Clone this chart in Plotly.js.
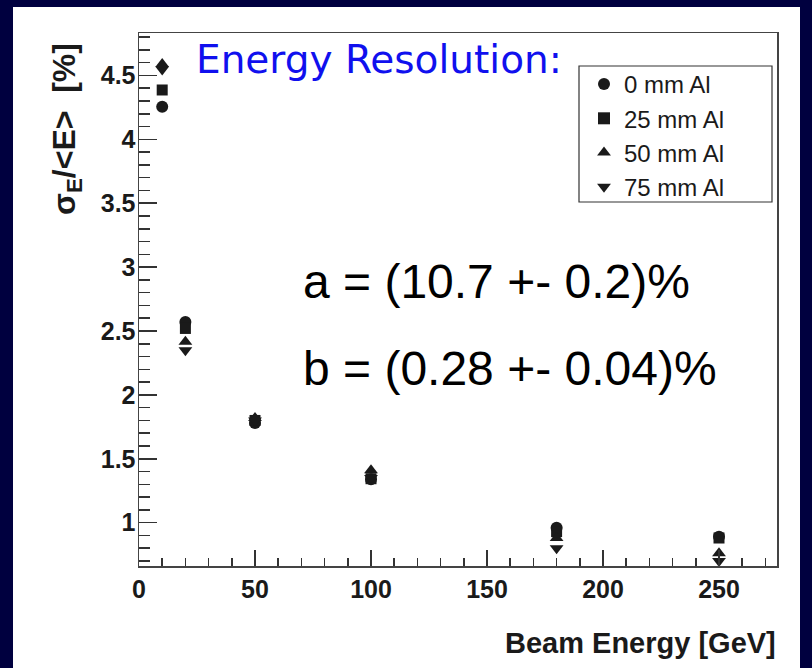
<!DOCTYPE html>
<html>
<head>
<meta charset="utf-8">
<script src="https://cdn.plot.ly/plotly-3.0.1.min.js"></script>
<style>
  html, body { margin: 0; padding: 0; background: #00003f; }
  #chart { width: 812px; height: 668px; }
</style>
</head>
<body>
<div id="chart"></div>
<script>
// ---- data ----
const beamEnergy = [10, 20, 50, 100, 180, 250];
const res0mm  = [4.255, 2.57, 1.78, 1.34, 0.96, 0.89];
const res25mm = [4.386, 2.52, 1.80, 1.344, 0.93, 0.88];
const res50mm = [4.59, 2.416, 1.82, 1.41, 0.88, 0.76];
const res75mm = [4.546, 2.35, 1.80, 1.35, 0.80, 0.70];
const seriesNames = ['0 mm Al', '25 mm Al', '50 mm Al', '75 mm Al'];
const xTickVals = [0, 50, 100, 150, 200, 250];
const yTickVals = [1, 1.5, 2, 2.5, 3, 3.5, 4, 4.5];
const yTickText = ['1', '1.5', '2', '2.5', '3', '3.5', '4', '4.5'];
const fitA = 'a = (10.7 +- 0.2)%';
const fitB = 'b = (0.28 +- 0.04)%';

// ---- layout geometry (pixels) ----
const W = 812, H = 668;
const L = 139, R = 777, T = 33, B = 566;
const px = x => (x - L) / (R - L);
const py = y => (B - y) / (B - T);

const sans = '"Liberation Sans", Arial, sans-serif';
const ink = '#1a1a1a';

const symbols = ['circle', 'square', 'triangle-up', 'triangle-down'];
const sizes = [12, 11, 12, 12];
const seriesVals = [res0mm, res25mm, res50mm, res75mm];

const traces = seriesVals.map((vals, i) => ({
  type: 'scatter',
  mode: 'markers',
  x: beamEnergy,
  y: vals,
  name: seriesNames[i],
  marker: { symbol: symbols[i], size: sizes[i], color: ink, line: { width: 0 } },
  cliponaxis: false
}));

const layout = {
  width: W, height: H,
  paper_bgcolor: '#00003f',
  plot_bgcolor: '#ffffff',
  margin: { l: L, r: W - R, t: T, b: H - B, pad: 0 },
  showlegend: true,
  legend: {
    x: px(584), xanchor: 'left',
    y: py(62), yanchor: 'top',
    bgcolor: 'rgba(0,0,0,0)',
    borderwidth: 0,
    font: { family: sans, size: 24, color: ink },
    itemwidth: 30,
    itemsizing: 'constant',
    tracegroupgap: 0
  },
  xaxis: {
    range: [0, 275],
    tickmode: 'array', tickvals: xTickVals,
    ticks: 'inside', ticklen: 16, tickwidth: 1.5, tickcolor: '#333',
    minor: { ticks: 'inside', ticklen: 8, tickwidth: 1.5, tickcolor: '#333', dtick: 10, tick0: 0, showgrid: false },
    showgrid: false, zeroline: false,
    showline: true, mirror: true, linecolor: '#444', linewidth: 1.5,
    tickfont: { family: sans, size: 25, color: ink, weight: 'bold' },
    ticklabelstandoff: 0
  },
  yaxis: {
    range: [0.661, 4.832],
    tickmode: 'array', tickvals: yTickVals, ticktext: yTickText,
    ticks: 'inside', ticklen: 18, tickwidth: 1.5, tickcolor: '#333',
    minor: { ticks: 'inside', ticklen: 11, tickwidth: 1.5, tickcolor: '#333', dtick: 0.1, tick0: 0, showgrid: false },
    showgrid: false, zeroline: false,
    showline: true, mirror: true, linecolor: '#444', linewidth: 1.5,
    tickfont: { family: sans, size: 25, color: ink, weight: 'bold' },
    ticklabelstandoff: -3
  },
  shapes: [
    // white slide panel
    { type: 'rect', xref: 'paper', yref: 'paper', layer: 'below',
      x0: px(13), x1: px(800), y0: py(700), y1: py(7),
      fillcolor: '#ffffff', line: { width: 0 } },
    // legend frame
    { type: 'rect', xref: 'paper', yref: 'paper', layer: 'above',
      x0: px(579), x1: px(772), y0: py(202), y1: py(66),
      fillcolor: 'rgba(0,0,0,0)', line: { color: '#333', width: 1.2 } }
  ],
  annotations: [
    { xref: 'paper', yref: 'paper', x: px(66), y: py(129), xanchor: 'center', yanchor: 'middle',
      textangle: -90, showarrow: false,
      text: 'σ<sub>E</sub>/&lt;E&gt;\u00a0\u00a0[%]',
      font: { family: sans, size: 32, color: ink, weight: 'bold' } },
    { xref: 'paper', yref: 'paper', x: px(778), y: py(643), xanchor: 'right', yanchor: 'middle',
      showarrow: false, text: 'Beam Energy [GeV]',
      font: { family: sans, size: 29, color: ink, weight: 'bold' } },
    { xref: 'paper', yref: 'paper', x: px(194), y: py(59), xanchor: 'left', yanchor: 'middle',
      showarrow: false, text: 'Energy Resolution:',
      font: { family: '"DejaVu Sans", sans-serif', size: 39, color: '#1010ee' } },
    { xref: 'paper', yref: 'paper', x: px(301), y: py(281), xanchor: 'left', yanchor: 'middle',
      showarrow: false, text: fitA,
      font: { family: sans, size: 48, color: '#000' } },
    { xref: 'paper', yref: 'paper', x: px(301), y: py(368), xanchor: 'left', yanchor: 'middle',
      showarrow: false, text: fitB,
      font: { family: sans, size: 48, color: '#000' } }
  ]
};

Plotly.newPlot('chart', traces, layout, { staticPlot: true, displayModeBar: false });
</script>
</body>
</html>
